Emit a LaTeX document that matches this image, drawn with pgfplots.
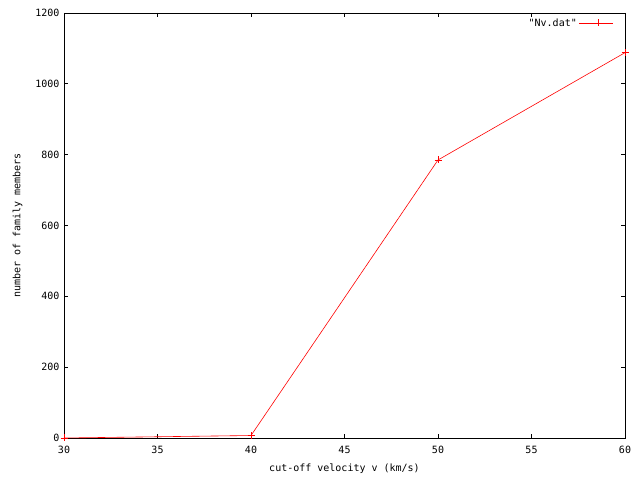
\documentclass[border=0pt]{standalone}
\usepackage{fontspec}
\setmainfont{DejaVu Sans Mono}[Ligatures=TeXOff]
\usepackage{pgfplots}
\pgfplotsset{compat=1.18}
\begin{document}
\fontsize{10bp}{12bp}\selectfont
\begin{tikzpicture}[x=1bp,y=1bp]
\path[use as bounding box] (0,0) rectangle (640,480);
\begin{axis}[
  at={(64bp,42bp)}, anchor=south west,
  scale only axis, width=561bp, height=425bp,
  xmin=30, xmax=60, ymin=0, ymax=1200,
  xtick={30,35,...,60}, ytick={0,200,...,1200},
  tick align=inside, major tick length=4bp,
  axis line style={black, line width=0.8pt},
  every tick/.style={black, line width=0.8pt},
  /pgf/number format/assume math mode=true,
  /pgf/number format/1000 sep={},
  xticklabel style={yshift=-5bp},
  yticklabel style={xshift=-1bp},
  xlabel={cut-off velocity v (km/s)},
  ylabel={number of family members},
  xlabel style={yshift=-3bp},
  ylabel style={yshift=6bp},
  legend style={draw=none, fill=none, at={(0.985,0.997)}, anchor=north east,
    font=\fontsize{10bp}{12bp}\selectfont,
    legend image code/.code={
      \path (0bp,0bp) -- (34bp,0bp);
      \draw[#1, mark=none] (4bp,0bp) -- (34bp,0bp);
      \draw[#1, only marks] plot coordinates {(19bp,0bp)};
    }},
  legend cell align=right,
  legend plot pos=right,
  clip=false,
]
\addplot[red, line width=0.6pt, mark=+, mark size=3.5bp, mark options={line width=0.8pt}] coordinates {
  (30,0) (40,7) (50,785) (60,1088)
};
\addlegendentry{"Nv.dat"}
\end{axis}
\end{tikzpicture}
\end{document}
